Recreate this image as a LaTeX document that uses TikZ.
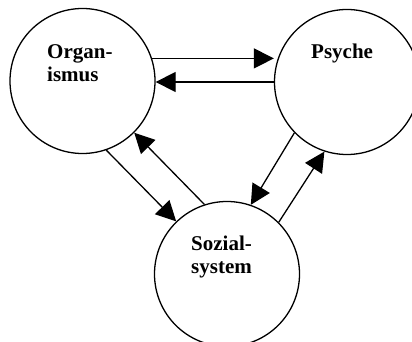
\documentclass[tikz,border=0pt]{standalone}
\usepackage{fontspec}
\setmainfont{Liberation Serif}
\usetikzlibrary{arrows.meta}
\usetikzlibrary{calc}

\begin{document}
\begin{tikzpicture}[x=1pt, y=-1pt, font=\fontsize{21}{23}\selectfont\bfseries,
  system/.style={draw, circle, line width=1.3pt, minimum size=2*\radius pt, inner sep=0pt},
  text only/.style={inner sep=0pt, align=left, anchor=base west},
  flow/.style={line width=1.3pt, -{Triangle[length=20pt, width=20pt]}}]
\pgfmathsetmacro{\radius}{72.5}
\useasboundingbox (0,0) rectangle (412,342);
\foreach \name/\cx/\cy/\lx/\ly/\phrase in {
    org/82.5/81/47/82/Organ-\\ismus,
    psy/347/82/311/59/Psyche,
    soz/227/274/191/273/Sozial-\\system} {
  \node[system] (\name) at (\cx, \cy) {};
  \node[text only] (label-\name) at (\lx, \ly) {\phrase};
}
\draw[flow] (org.18) -- (org.18 -| psy.west);
\draw[flow] (psy.west) -- (psy.west -| org.east);
\draw[flow] (org.-71) -- (soz.134);
\draw[flow] (soz.108) -- (org.-45);
\draw[flow] (psy.224) -- (soz.71);
\draw[flow] (soz.45) -- (psy.252);
\end{tikzpicture}
\end{document}
